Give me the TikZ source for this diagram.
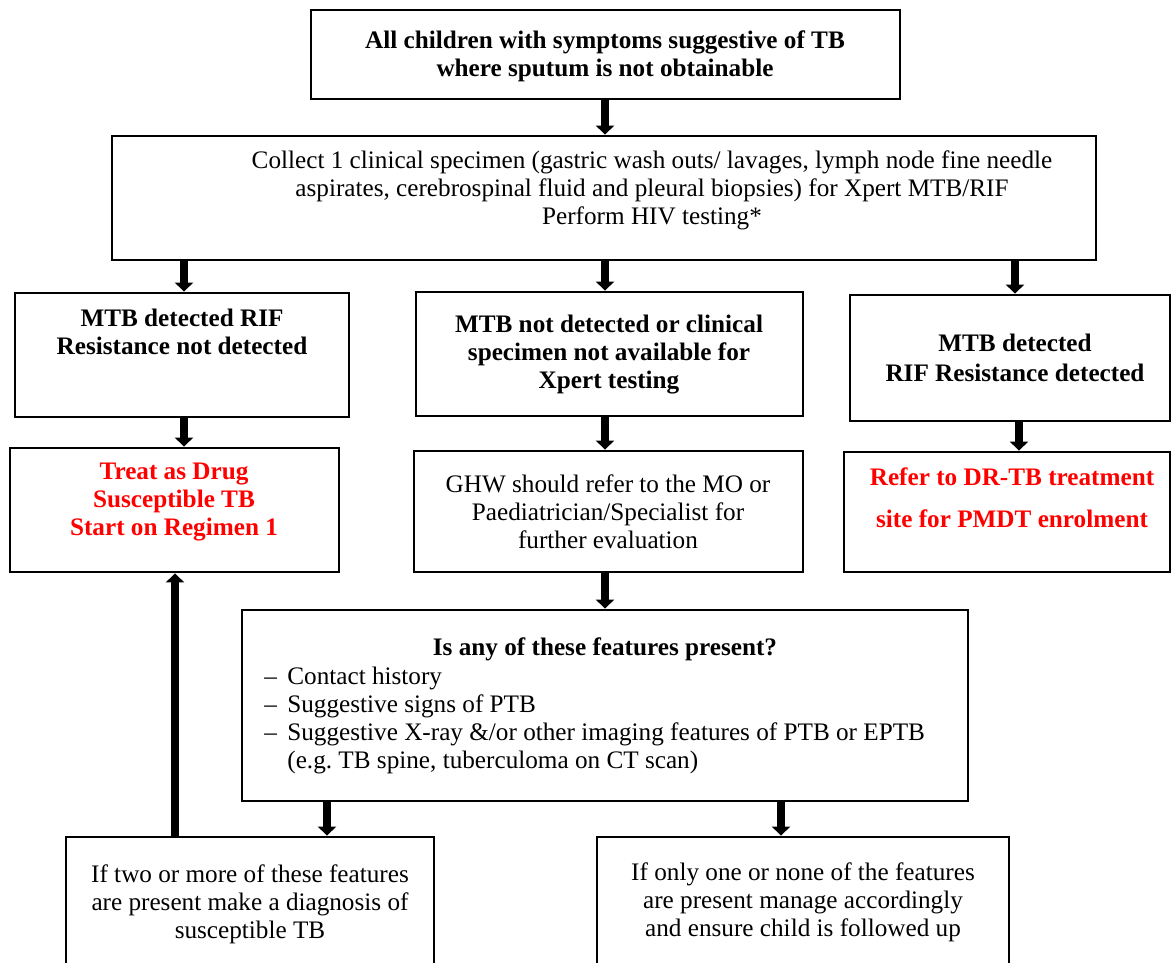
\documentclass[tikz,border=0pt]{standalone}
\usepackage{fontspec}
\setmainfont{Liberation Serif}
\usetikzlibrary{arrows.meta}
\definecolor{alertred}{RGB}{255,0,0}

% a box given by its corners in pixel units: name, x1, y1, x2, y2
\newcommand\flowbox[5]{%
  \node[box, minimum width={(#4-#2)*0.5pt}, minimum height={(#5-#3)*0.5pt}]
    (#1) at ({(#2+#4)/2},{(#3+#5)/2}) {};}

\tikzset{
  box/.style={draw, rectangle, line width=1.4pt, inner sep=0pt},
  plain/.style={align=center, inner sep=0pt, font=\fontsize{12.6}{14}\selectfont},
  strong/.style={align=center, inner sep=0pt, font=\fontsize{12.6}{14}\selectfont\bfseries},
  flowarrow/.style={line width=4pt, -{Triangle[width=9pt,length=4.5pt]}},
}

\begin{document}
\begin{tikzpicture}[x=0.5pt, y=-0.5pt]
\useasboundingbox (0,0) rectangle (1172,963);
\clip (0,0) rectangle (1172,963);

% boxes
\flowbox{start}{311}{10}{900}{99}
\flowbox{collect}{112}{136}{1096}{260}
\flowbox{rifneg}{15}{293}{349}{417}
\flowbox{notdet}{416}{292}{803}{416}
\flowbox{rifpos}{850}{295}{1170}{421}
\flowbox{treat}{10}{448}{339}{572}
\flowbox{refermo}{414}{451}{803}{572}
\flowbox{referdr}{844}{452}{1170}{572}
\flowbox{features}{242}{610}{968}{801}
\flowbox{twoplus}{66}{837}{434}{990}
\flowbox{oneless}{597}{837}{1009}{990}

% texts
\node[strong] (tstart) at (605,56) {All children with symptoms suggestive of TB\\where sputum is not obtainable};
\node[plain] (tcollect) at (652,190) {Collect 1 clinical specimen (gastric wash outs/ lavages, lymph node fine needle\\aspirates, cerebrospinal fluid and pleural biopsies) for Xpert MTB/RIF\\Perform HIV testing*};
\node[strong] (trifneg) at (182,332) {MTB detected RIF\\Resistance not detected};
\node[strong] (tnotdet) at (609,355) {MTB not detected or clinical\\specimen not available for\\Xpert testing};
\node[strong, font=\fontsize{12.6}{15}\selectfont\bfseries] (trifpos) at (1015,358) {MTB detected\\RIF Resistance detected};
\node[strong, text=alertred] (ttreat) at (174,502) {Treat as Drug\\Susceptible TB\\Start on Regimen 1};
\node[plain] (trefermo) at (608,512) {GHW should refer to the MO or\\Paediatrician/Specialist for\\further evaluation};
\node[strong, text=alertred, font=\fontsize{12.6}{21}\selectfont\bfseries] (treferdr) at (1012,498) {Refer to DR-TB treatment\\site for PMDT enrolment};
\node[strong] (tquestion) at (605,649) {Is any of these features present?};
\node[plain, align=left, anchor=north west] (tlist) at (264,667) {%
  \makebox[11.5pt][l]{–}Contact history\\
  \makebox[11.5pt][l]{–}Suggestive signs of PTB\\
  \makebox[11.5pt][l]{–}Suggestive X-ray \&/or other imaging features of PTB or EPTB\\
  \hspace*{11.5pt}(e.g.\ TB spine, tuberculoma on CT scan)};
\node[plain] (ttwoplus) at (250,904) {If two or more of these features\\are present make a diagnosis of\\susceptible TB};
\node[plain] (toneless) at (803,902) {If only one or none of the features\\are present manage accordingly\\and ensure child is followed up};

% arrow columns
\coordinate (cA) at (175,0);
\coordinate (cB) at (184,0);
\coordinate (cC) at (605,0);
\coordinate (cD) at (1015,0);
\coordinate (cE) at (1019,0);
\coordinate (cF) at (327,0);
\coordinate (cG) at (781,0);

% connectors
\draw[flowarrow] (start.south -| cC) -- (collect.north -| cC);
\draw[flowarrow] (collect.south -| cB) -- (rifneg.north -| cB);
\draw[flowarrow] (collect.south -| cC) -- (notdet.north -| cC);
\draw[flowarrow] (collect.south -| cD) -- (rifpos.north -| cD);
\draw[flowarrow] (rifneg.south -| cB) -- (treat.north -| cB);
\draw[flowarrow] (notdet.south -| cC) -- (refermo.north -| cC);
\draw[flowarrow] (rifpos.south -| cE) -- (referdr.north -| cE);
\draw[flowarrow] (refermo.south -| cC) -- (features.north -| cC);
\draw[flowarrow] (features.south -| cF) -- (twoplus.north -| cF);
\draw[flowarrow] (features.south -| cG) -- (oneless.north -| cG);
\draw[flowarrow] (twoplus.north -| cA) -- (treat.south -| cA);
\end{tikzpicture}
\end{document}
